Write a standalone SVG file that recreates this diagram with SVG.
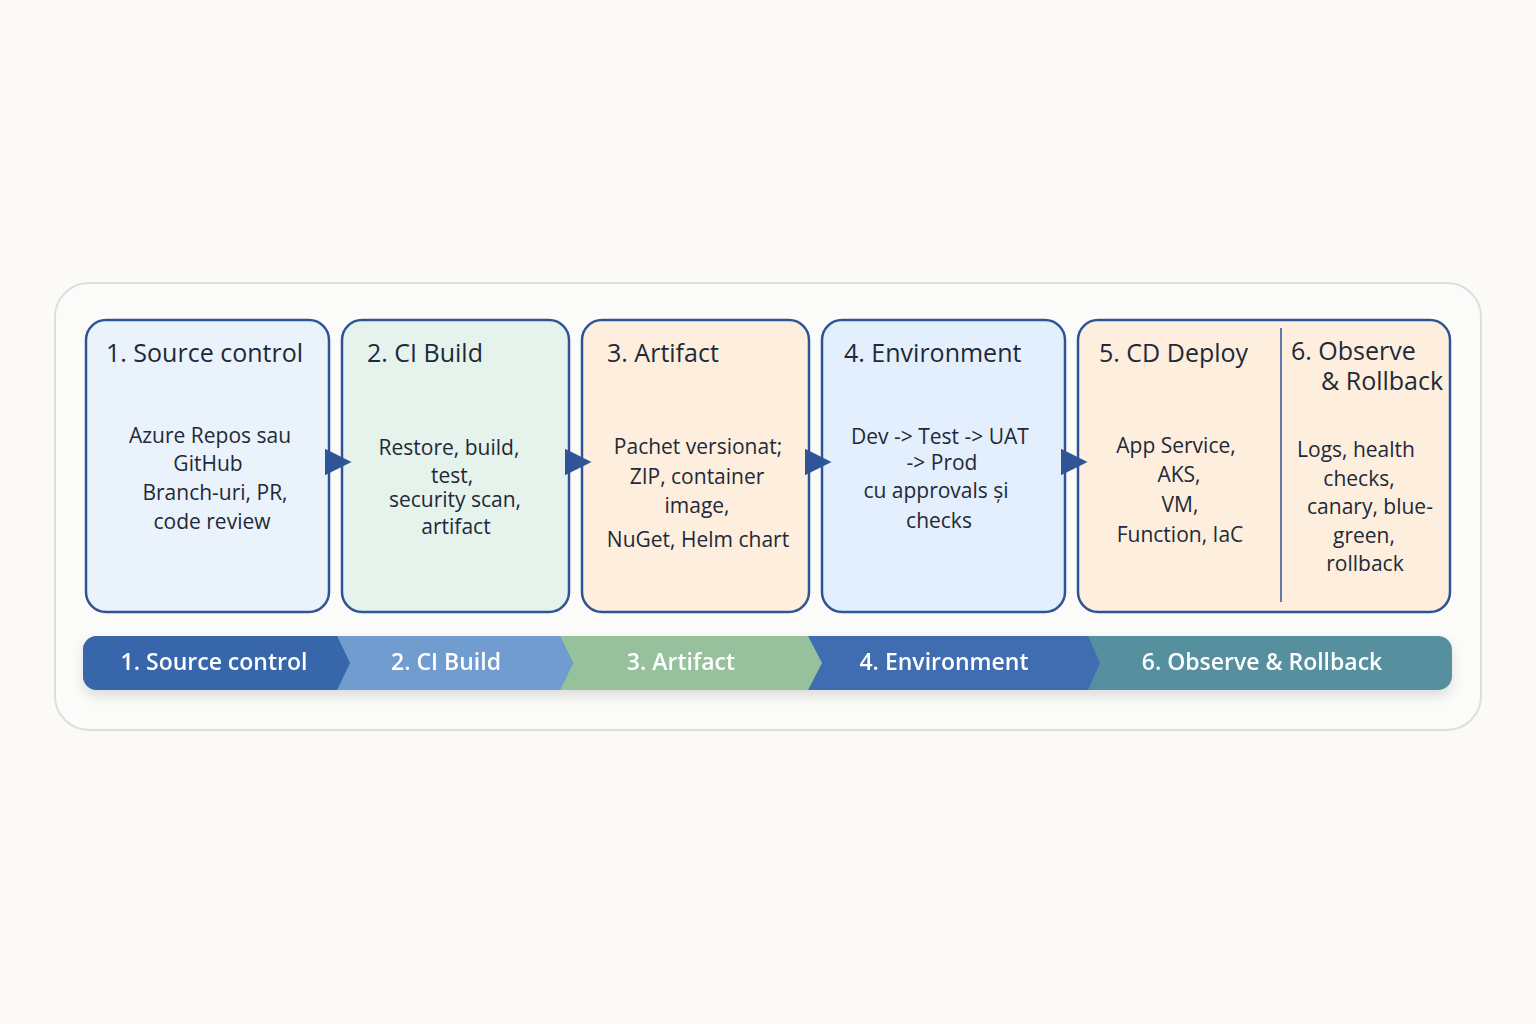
<svg xmlns="http://www.w3.org/2000/svg" width="1536" height="1024" viewBox="0 0 1536 1024">
<defs>
<style>
.box{stroke:#2f5597;stroke-width:2.5}
.t{font-family:"Open Sans","Liberation Sans",sans-serif;fill:#1f2937}
.h{font-size:25px}
.b{font-size:21px;text-anchor:middle}
.bar{font-family:"Open Sans","Liberation Sans",sans-serif;font-size:23px;font-weight:600;fill:#fff;text-anchor:middle}
</style>
<marker id="ar" viewBox="0 0 10 10" refX="5" refY="5" markerWidth="4.5" markerHeight="4.5" orient="auto"><path d="M0,0L10,5L0,10z" fill="#2f5597"/></marker>
<filter id="sh" x="-5%" y="-20%" width="110%" height="150%"><feDropShadow dx="0" dy="6" stdDeviation="6" flood-color="#000" flood-opacity="0.12"/></filter>
<clipPath id="bc"><rect x="83" y="636" width="1369" height="54" rx="14"/></clipPath>
</defs>
<rect width="1536" height="1024" fill="#fbfaf7"/>
<rect x="55" y="283" width="1426" height="447" rx="34" fill="#fbfbfa" stroke="#dedede" stroke-width="2"/>
<g id="n1"><rect class="box" x="86" y="320" width="243" height="292" rx="20" fill="#eaf2fc"/>
<text class="t h" x="106" y="362">1. Source control</text>
<text class="t b" x="210" y="443">Azure Repos sau</text><text class="t b" x="208" y="471">GitHub</text><text class="t b" x="215" y="500">Branch-uri, PR,</text><text class="t b" x="212" y="529">code review</text></g>
<g id="n2"><rect class="box" x="342" y="320" width="227" height="292" rx="20" fill="#e5f3ec"/>
<text class="t h" x="367" y="362">2. CI Build</text>
<text class="t b" x="449" y="455">Restore, build,</text><text class="t b" x="452" y="483">test,</text><text class="t b" x="455" y="507">security scan,</text><text class="t b" x="456" y="534">artifact</text></g>
<g id="n3"><rect class="box" x="582" y="320" width="227" height="292" rx="20" fill="#fdeede"/>
<text class="t h" x="607" y="362">3. Artifact</text>
<text class="t b" x="698" y="454">Pachet versionat;</text><text class="t b" x="697" y="484">ZIP, container</text><text class="t b" x="697" y="513">image,</text><text class="t b" x="698" y="547">NuGet, Helm chart</text></g>
<g id="n4"><rect class="box" x="822" y="320" width="243" height="292" rx="20" fill="#e3effc"/>
<text class="t h" x="844" y="362">4. Environment</text>
<text class="t b" x="940" y="444">Dev -&gt; Test -&gt; UAT</text><text class="t b" x="942" y="470">-&gt; Prod</text><text class="t b" x="936" y="498">cu approvals și</text><text class="t b" x="939" y="528">checks</text></g>
<g id="n5"><rect class="box" x="1078" y="320" width="372" height="292" rx="20" fill="#fdeede"/>
<line x1="1281" y1="328" x2="1281" y2="602" stroke="#2f5597" stroke-width="1.5"/>
<text class="t h" x="1099" y="362">5. CD Deploy</text>
<text class="t b" x="1176" y="453">App Service,</text><text class="t b" x="1179" y="482">AKS,</text><text class="t b" x="1180" y="512">VM,</text><text class="t b" x="1180" y="542">Function, IaC</text></g>
<g id="n6"><text class="t h" x="1291" y="360">6. Observe</text><text class="t h" x="1321" y="390">&amp; Rollback</text>
<text class="t b" x="1356" y="457">Logs, health</text><text class="t b" x="1359" y="486">checks,</text><text class="t b" x="1370" y="514">canary, blue-</text><text class="t b" x="1364" y="543">green,</text><text class="t b" x="1365" y="571">rollback</text></g>
<g id="connectors" stroke="#2f5597" stroke-width="6" fill="none">
<line x1="329" y1="462" x2="338" y2="462" marker-end="url(#ar)"/>
<line x1="569" y1="462" x2="578" y2="462" marker-end="url(#ar)"/>
<line x1="809" y1="462" x2="818" y2="462" marker-end="url(#ar)"/>
<line x1="1065" y1="462" x2="1074" y2="462" marker-end="url(#ar)"/>
</g>
<g id="bar" filter="url(#sh)"><g clip-path="url(#bc)">
<rect x="83" y="636" width="1369" height="54" fill="#568f9e"/>
<polygon points="808,636 1088,636 1100,663 1088,690 808,690 822,663" fill="#3f6db1"/>
<polygon points="560,636 808,636 822,663 808,690 560,690 573,663" fill="#96c19c"/>
<polygon points="337,636 560,636 573,663 560,690 337,690 350,663" fill="#6f9ccf"/>
<polygon points="60,636 337,636 350,663 337,690 60,690" fill="#3866aa"/>
</g>
<text class="bar" x="214" y="670">1. Source control</text>
<text class="bar" x="446" y="670">2. CI Build</text>
<text class="bar" x="681" y="670">3. Artifact</text>
<text class="bar" x="944" y="670">4. Environment</text>
<text class="bar" x="1262" y="670">6. Observe &amp; Rollback</text></g>
</svg>
